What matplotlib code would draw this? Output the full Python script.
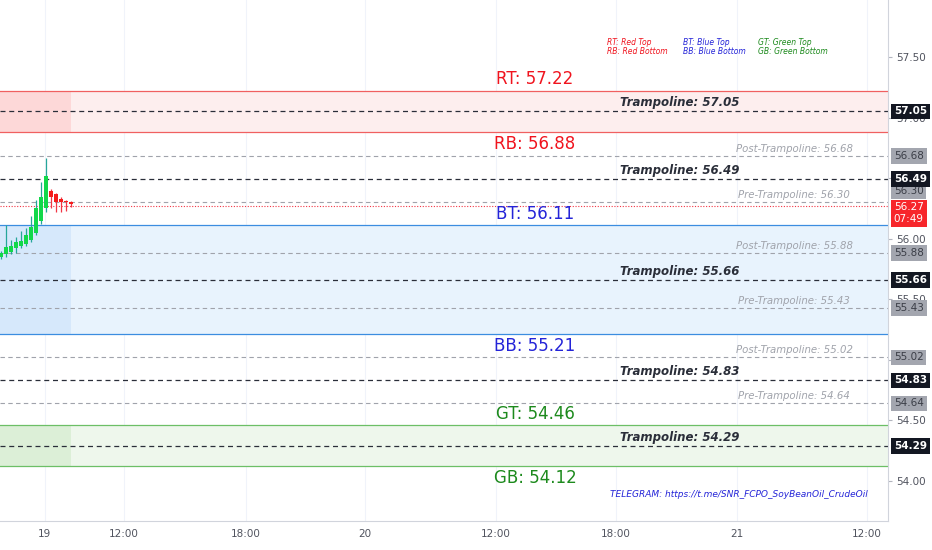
import matplotlib
matplotlib.use("Agg")
import matplotlib.pyplot as plt
from matplotlib.transforms import blended_transform_factory

# 15-minute candles (bar index = position on the compressed session axis)
opens  = [55.85, 55.87, 55.89, 55.92, 55.94, 55.96, 55.99, 56.05, 56.15, 56.25, 56.39, 56.37, 56.33, 56.31, 56.30]
highs  = [55.90, 56.11, 55.99, 56.01, 56.06, 56.09, 56.19, 56.32, 56.47, 56.67, 56.41, 56.38, 56.34, 56.32, 56.31]
lows   = [55.83, 55.85, 55.87, 55.88, 55.92, 55.94, 55.97, 56.03, 56.12, 56.22, 56.25, 56.22, 56.22, 56.23, 56.26]
closes = [55.88, 55.93, 55.94, 55.97, 55.98, 56.03, 56.10, 56.25, 56.34, 56.52, 56.34, 56.30, 56.30, 56.30, 56.29]

last_price = 56.27
countdown = "07:49"

# zones: (top, bottom)
red_zone = (57.22, 56.88)
blue_zone = (56.11, 55.21)
green_zone = (54.46, 54.12)

trampolines = [57.05, 56.49, 55.66, 54.83, 54.29]
post_tramp = [56.68, 55.88, 55.02]
pre_tramp = [56.30, 55.43, 54.64]

xtick_pos = [8.7, 24.5, 48.9, 72.8, 99.0, 123.0, 147.1, 173.2]
xtick_labels = ["19", "12:00", "18:00", "20", "12:00", "18:00", "21", "12:00"]
ytick_vals = [54.0, 54.5, 55.0, 55.5, 56.0, 56.5, 57.0, 57.5]
ytick_hidden = [55.0, 56.5]  # fully covered by price badges

fig = plt.figure(figsize=(9.32, 5.5), dpi=100)
ax = fig.add_axes([0.0, 29 / 550, 888 / 932, 521 / 550])
ax.set_xlim(-0.2, 177.4)
ax.set_ylim(53.67, 57.97)

ax.grid(True, axis="x", color="#f0f3fa", lw=0.8, zorder=0)
ax.set_axisbelow(True)

n = len(opens)
x_end = n - 1
zone_styles = [
    (red_zone, "#fdeeee", "#fdd8d8", "#f06060", "#f0141e", "RT", "RB"),
    (blue_zone, "#e8f3fd", "#d6e8fb", "#3b8de0", "#2424d8", "BT", "BB"),
    (green_zone, "#eef7ec", "#dcefd7", "#6cbf66", "#1d8a1d", "GT", "GB"),
]
for (top, bot), light, deep, edge, tcol, tname, bname in zone_styles:
    ax.axhspan(bot, top, color=light, lw=0, zorder=1)
    ax.fill_between([-0.2, x_end], bot, top, color=deep, lw=0, zorder=1.1)
    ax.axhline(top, color=edge, lw=0.9, zorder=2)
    ax.axhline(bot, color=edge, lw=0.9, zorder=2)
    ax.annotate(f"{tname}: {top:.2f}", (106.8, top), xytext=(0, 2), textcoords="offset points",
                ha="center", va="bottom", fontsize=12, color=tcol)
    ax.annotate(f"{bname}: {bot:.2f}", (106.8, bot), xytext=(0, -2), textcoords="offset points",
                ha="center", va="top", fontsize=12, color=tcol)

for v in trampolines:
    ax.axhline(v, color="#2a2e39", lw=0.9, ls=(0, (4, 3)), zorder=2)
    ax.annotate(f"Trampoline: {v:.2f}", (135.8, v), xytext=(0, 1.5), textcoords="offset points",
                ha="center", va="bottom", fontsize=8.5, style="italic", fontweight="bold", color="#2a2e39")
for v in post_tramp:
    ax.axhline(v, color="#a0a3ab", lw=0.8, ls=(0, (4, 3)), zorder=2)
    ax.annotate(f"Post-Trampoline: {v:.2f}", (158.6, v), xytext=(0, 1.5), textcoords="offset points",
                ha="center", va="bottom", fontsize=7.3, style="italic", color="#a0a3ab")
for v in pre_tramp:
    ax.axhline(v, color="#a0a3ab", lw=0.8, ls=(0, (4, 3)), zorder=2)
    ax.annotate(f"Pre-Trampoline: {v:.2f}", (158.6, v), xytext=(0, 1.5), textcoords="offset points",
                ha="center", va="bottom", fontsize=7.3, style="italic", color="#a0a3ab")

ax.axhline(last_price, color="#f23645", lw=0.8, ls=(0, (1, 1.5)), zorder=2.2)

# candles
for i in range(n):
    up = closes[i] >= opens[i]
    body = "#12d84a" if up else "#f51c1c"
    wick = "#26a69a" if up else "#f23645"
    ax.vlines(i, lows[i], highs[i], color=wick, lw=0.9, zorder=3)
    lo, hi = min(opens[i], closes[i]), max(opens[i], closes[i])
    ax.bar(i, max(hi - lo, 0.008), bottom=lo, width=0.78, color=body, lw=0, zorder=3.1)

# axes styling
ax.yaxis.tick_right()
ax.set_yticks(ytick_vals)
ax.set_yticklabels(["" if v in ytick_hidden else f"{v:.2f}" for v in ytick_vals])
ax.set_xticks(xtick_pos)
ax.set_xticklabels(xtick_labels)
ax.tick_params(axis="y", length=3, color="#b2b5be", labelsize=7.5, labelcolor="#50535e", pad=3)
ax.tick_params(axis="x", length=0, labelsize=7.5, labelcolor="#50535e", pad=6)
for s in ["top", "left"]:
    ax.spines[s].set_visible(False)
ax.spines["right"].set_color("#d1d4dc")
ax.spines["bottom"].set_color("#d1d4dc")
ax.spines["right"].set_linewidth(0.8)
ax.spines["bottom"].set_linewidth(0.8)

# price badges on the right scale
tr = blended_transform_factory(ax.transAxes, ax.transData)
def badge(v, text, fc, tc, bold=False):
    ax.text(1.0065, v, text, transform=tr, ha="left", va="center", fontsize=7.5,
            color=tc, fontweight="bold" if bold else "normal", clip_on=False, zorder=10,
            linespacing=1.2,
            bbox=dict(boxstyle="square,pad=0.28", fc=fc, ec="none"))

# the scale pushes colliding badges apart: 56.30 sits above the live price tag
for v in post_tramp + pre_tramp:
    shift = 0.09 if v == pre_tramp[0] else 0.0
    badge(v + shift, f"{v:.2f}", "#a3a6af", "#3b3e47")
for v in trampolines:
    badge(v, f"{v:.2f}", "#131722", "white", bold=True)
badge(last_price - 0.06, f"{last_price:.2f}\n{countdown}", "#f7262b", "white")

# legend and footer notes
ax.text(0.6836, 0.9175, "RT: Red Top", transform=ax.transAxes, fontsize=5.5, style="italic", color="#f0141e", va="center")
ax.text(0.6836, 0.9020, "RB: Red Bottom", transform=ax.transAxes, fontsize=5.5, style="italic", color="#f0141e", va="center")
ax.text(0.7691, 0.9175, "BT: Blue Top", transform=ax.transAxes, fontsize=5.5, style="italic", color="#2424d8", va="center")
ax.text(0.7691, 0.9020, "BB: Blue Bottom", transform=ax.transAxes, fontsize=5.5, style="italic", color="#2424d8", va="center")
ax.text(0.8536, 0.9175, "GT: Green Top", transform=ax.transAxes, fontsize=5.5, style="italic", color="#1d8a1d", va="center")
ax.text(0.8536, 0.9020, "GB: Green Bottom", transform=ax.transAxes, fontsize=5.5, style="italic", color="#1d8a1d", va="center")
ax.text(0.977, 0.05, "TELEGRAM: https://t.me/SNR_FCPO_SoyBeanOil_CrudeOil", transform=ax.transAxes,
        fontsize=6.5, style="italic", color="#2424d8", ha="right", va="center")

fig.savefig("out.png", dpi=100)
